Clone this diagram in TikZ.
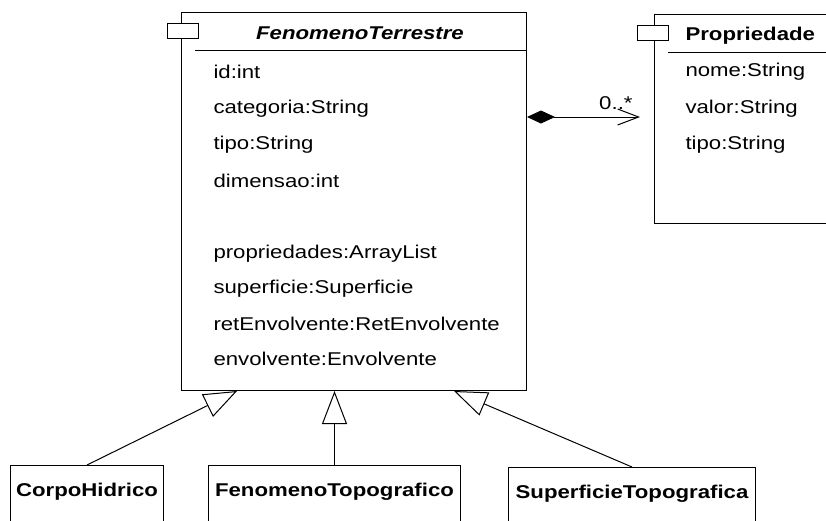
\documentclass[tikz,border=0pt]{standalone}
\usepackage{fontspec}
\setmainfont{Liberation Sans}[FakeStretch=1.2]
\usetikzlibrary{arrows.meta,positioning}

\begin{document}
\begin{tikzpicture}[x=1pt,y=-1pt,line width=1pt,
  cls/.style={draw,fill=white,inner sep=0pt,anchor=north west},
  tab/.style={draw,fill=white,inner sep=0pt,minimum width=31pt,minimum height=15pt},
  attr/.style={anchor=west,inner sep=0pt,font=\fontsize{18.5}{22}\selectfont},
  ttl/.style={inner sep=0pt,font=\fontsize{18.5}{22}\selectfont\bfseries},
  sub/.style={draw,fill=white,anchor=north west,inner xsep=0pt,inner ysep=17pt,
    text height=13.5pt,text depth=30pt,font=\fontsize{18.5}{22}\selectfont\bfseries},
  gen/.style={-{Triangle[open,length=33pt,width=25pt]}},
  comp/.style={{Diamond[length=28pt,width=13pt]}-{Straight Barb[length=21pt,width=16pt]}}]
\useasboundingbox (0,0) rectangle (826,520);

% classe abstrata
\node[cls,minimum width=345pt,minimum height=378pt] (ft) at (181,12) {};
\draw ([xshift=14pt,yshift=-38pt]ft.north west) -- ([yshift=-38pt]ft.north east);
\node[tab] (fttab) at ([xshift=2pt,yshift=-19pt]ft.north west) {};
\node[ttl,font=\fontsize{18.5}{22}\selectfont\bfseries\itshape] (fttitle) at (360,33) {FenomenoTerrestre};
\node[attr] (ftid) at (213,72) {id:int};
\node[attr] (ftcat) at (213,109) {categoria:String};
\node[attr] (fttipo) at (213,145) {tipo:String};
\node[attr] (ftdim) at (213,181) {dimensao:int};
\node[attr] (ftprop) at (213,254) {propriedades:ArrayList};
\node[attr] (ftsup) at (213,289) {superficie:Superficie};
\node[attr] (ftret) at (213,324) {retEnvolvente:RetEnvolvente};
\node[attr] (ftenv) at (213,359) {envolvente:Envolvente};

% propriedade
\node[cls,minimum width=185pt,minimum height=209pt] (prop) at (654,14) {};
\draw ([xshift=14pt,yshift=-38pt]prop.north west) -- ([yshift=-38pt]prop.north east);
\node[tab] (proptab) at ([xshift=-1pt,yshift=-19pt]prop.north west) {};
\node[ttl,anchor=west] (proptitle) at (685,36) {Propriedade};
\node[attr] (propnome) at (685,72) {nome:String};
\node[attr] (propvalor) at (685,109) {valor:String};
\node[attr] (proptipo) at (685,145) {tipo:String};

% composicao
\coordinate (cmp) at (0,117);
\draw[comp,shorten >=14pt] (ft.east |- cmp) -- node[attr,anchor=center,pos=0.7,above=7pt] (mult) {0..*} (prop.west |- cmp);

% subclasses
\node[sub,minimum width=153pt] (ch) at (10,465) {CorpoHidrico};
\node[sub,minimum width=252pt] (ftopo) at (208,465) {FenomenoTopografico};
\node[sub,minimum width=247pt] (st) at (508,467) {SuperficieTopografica};

\draw[gen] (ch.north) -- ([xshift=56pt]ft.south west);
\draw[gen] (ftopo.north) -- (ftopo.north |- ft.south);
\draw[gen] (st.north) -- ([xshift=-73pt]ft.south east);
\end{tikzpicture}
\end{document}
